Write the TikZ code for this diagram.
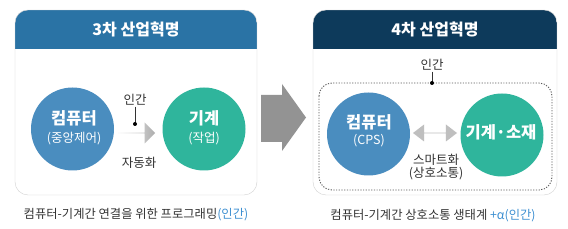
\documentclass[tikz,border=0pt]{standalone}
\usepackage{fontspec}
\setmainfont{Noto Sans CJK KR}
\usetikzlibrary{shapes.arrows}
\definecolor{hdrA}{HTML}{2A73A5}
\definecolor{hdrB}{HTML}{0D3A5B}
\definecolor{cblue}{HTML}{4A8DBF}
\definecolor{cteal}{HTML}{2FB59C}
\definecolor{txt}{HTML}{333333}
\definecolor{hl}{HTML}{3D8FD1}
\definecolor{bord}{HTML}{CFCFCF}
\tikzset{
  circ/.style={circle, minimum size=83, inner sep=0},
  ctop/.style={text=white, inner sep=0, font=\bfseries\fontsize{16.5}{19}\selectfont},
  csub/.style={text=white, inner sep=0, font=\fontsize{12.5}{15}\selectfont},
  lbl/.style={text=txt, font=\fontsize{12.5}{15}\selectfont, inner sep=1pt, align=center},
  hdr/.style={text=white, font=\bfseries\fontsize{16}{19}\selectfont},
  captxt/.style={text=txt, font=\fontsize{12.3}{15}\selectfont},
}
\begin{document}
\begin{tikzpicture}[x=1pt,y=-1pt]
\useasboundingbox (0,0) rectangle (568,229);
% left panel
\begin{scope}
\clip[rounded corners=13] (15,10) rectangle (257,195);
\fill[white] (15,10) rectangle (257,195);
\fill[hdrA] (15,10) rectangle (257,49);
\end{scope}
\draw[bord, rounded corners=13] (15,10) rectangle (257,195);
\node[hdr] (h1) at (136,29) {3차 산업혁명};
% right panel
\begin{scope}
\clip[rounded corners=13] (313,10) rectangle (557,195);
\fill[white] (313,10) rectangle (557,195);
\fill[hdrB] (313,10) rectangle (557,49);
\end{scope}
\draw[bord, rounded corners=13] (313,10) rectangle (557,195);
\node[hdr] (h2) at (435,29) {4차 산업혁명};
% big arrow
\fill[gray!85!white] (261,95) -- (282,95) -- (282,84) -- (306,117.5) -- (282,151) -- (282,142) -- (261,142) -- cycle;
% left circles
\node[circ, fill=cblue] (c1) at (72.5,129) {};
\node[ctop] (c1a) at (74,118) {컴퓨터};
\node[csub] (c1b) at (74,139) {(중앙제어)};
\node[circ, fill=cteal] (m1) at (204,129) {};
\node[ctop] (m1a) at (204,118) {기계};
\node[csub] (m1b) at (204,139) {(작업)};
\node[single arrow, minimum height=37, minimum width=21, single arrow head extend=5.5, inner sep=0, left color=gray!5, right color=gray!65, draw=none] (a1) at (136.5,133) {};
\node[lbl] (p1) at (135,100) {인간};
\coordinate (d1) at (135,124);
\draw[txt, line width=0.8pt] (p1.south) -- (d1);
\fill[black] (d1) circle (2);
\node[lbl] (auto) at (139,163) {자동화};
\node[captxt] (cap1) at (136,215) {컴퓨터-기계간 연결을 위한 프로그래밍\textcolor{hl}{(인간)}};
% right
\draw[gray!70!black, line width=0.9pt, dash pattern=on 1.2pt off 1.5pt, rounded corners=13] (319,83) rectangle (552,190);
\node[lbl] (p2) at (432,65) {인간};
\coordinate (d2) at (432,83);
\draw[txt, line width=0.8pt] (p2.south) -- (d2);
\fill[black] (d2) circle (2);
\node[circ, fill=cblue] (c2) at (368.5,134) {};
\node[ctop] (c2a) at (369,122) {컴퓨터};
\node[csub] (c2b) at (369,141) {(CPS)};
\node[circ, fill=cteal] (m2) at (502,135) {};
\node[ctop] (m2a) at (501,132) {기계·소재};
\node[double arrow, minimum height=44, minimum width=17, double arrow head extend=5, double arrow tip angle=75, inner sep=0, fill=gray!50, draw=none] (a2) at (435,133) {};
\node[lbl] (smart1) at (436,160) {스마트화};
\node[lbl] (smart2) at (436,174) {(상호소통)};
\node[captxt] (cap2) at (433,216) {컴퓨터-기계간 상호소통 생태계 \textcolor{hl}{+α(인간)}};
\end{tikzpicture}
\end{document}
